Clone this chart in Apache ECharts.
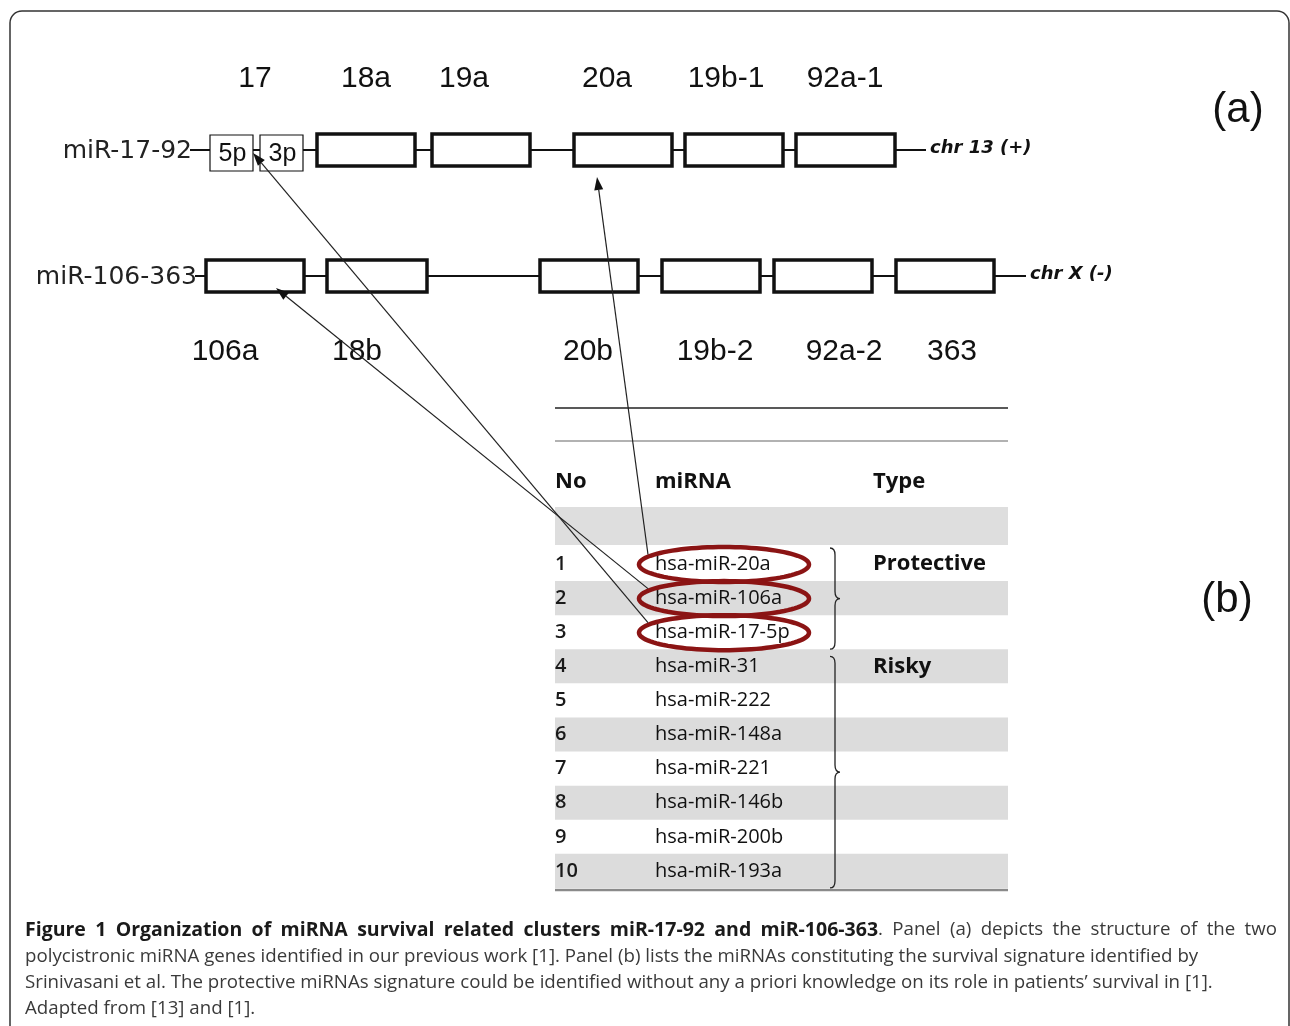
<!DOCTYPE html>
<html><head><meta charset="utf-8">
<script src="https://cdn.jsdelivr.net/npm/echarts@6/dist/echarts.min.js"></script>
<style>html,body{margin:0;padding:0;background:#fff}#c{width:1290px;height:1026px}</style>
</head><body><div id="c"></div>
<script>
// ---------- data ----------
const trackNames = ['miR-17-92', 'miR-106-363'];
const trackChrom = ['chr 13 (+)', 'chr X (-)'];
const trackStart = [190, 195];
const trackEnd = [926, 1026];

const cluster1Genes = ['17', '18a', '19a', '20a', '19b-1', '92a-1'];
const cluster1Start = [210, 317, 432, 574, 685, 796];
const cluster1End = [303, 415, 530, 672, 783, 895];
const cluster1LabelAt = [255, 366, 464, 607, 726, 845];

const arm17Names = ['5p', '3p'];
const arm17Start = [210, 260];
const arm17End = [253, 303];

const cluster2Genes = ['106a', '18b', '20b', '19b-2', '92a-2', '363'];
const cluster2Start = [206, 327, 540, 662, 774, 896];
const cluster2End = [304, 427, 638, 760, 872, 994];
const cluster2LabelAt = [225, 357, 588, 715, 844, 952];

const tableHeader = ['No', 'miRNA', 'Type'];
const tableNo = ['1', '2', '3', '4', '5', '6', '7', '8', '9', '10'];
const tableMiRNA = ['hsa-miR-20a', 'hsa-miR-106a', 'hsa-miR-17-5p', 'hsa-miR-31', 'hsa-miR-222',
  'hsa-miR-148a', 'hsa-miR-221', 'hsa-miR-146b', 'hsa-miR-200b', 'hsa-miR-193a'];
const tableType = ['Protective', '', '', 'Risky', '', '', '', '', '', ''];

const highlightRows = [0, 1, 2];
const arrowTargetGene = ['20a', '106a', '17'];
const arrowTipX = [597, 276, 253];
const arrowTipY = [177, 288, 153];

const panelLabels = ['(a)', '(b)'];
const captionBold = 'Figure 1 Organization of miRNA survival related clusters miR-17-92 and miR-106-363';
const captionLines = [
  '. Panel (a) depicts the structure of the two',
  'polycistronic miRNA genes identified in our previous work [1]. Panel (b) lists the miRNAs constituting the survival signature identified by',
  'Srinivasani et al. The protective miRNAs signature could be identified without any a priori knowledge on its role in patients\u2019 survival in [1].',
  'Adapted from [13] and [1].'
];

// ---------- layout (style) ----------
const TRACK_Y = [150, 276];
const BOX_HALF = 16;
const ARM_TOP = 135, ARM_BOT = 171;
const LABEL_Y = [78, 351];
const ROW0_Y = 564, ROW_H = 34.1;
const COL_X = [555, 655, 873];
const TABLE_L = 555, TABLE_R = 1008;
const rowY = i => ROW0_Y + i * ROW_H;
const GENE_FONT = '30px "Liberation Sans", Arial, sans-serif';
const TABLE_FONT_FAMILY = '"Open Sans", sans-serif';
const DARKRED = '#8b1414';

const chart = echarts.init(document.getElementById('c'));

function txt(x, y, text, font, align, fill) {
  return { type: 'text', x: x, y: y, style: { text: text, font: font, fill: fill || '#111', align: align || 'center', verticalAlign: 'middle' } };
}

// tracks
function renderTrack(params, api) {
  const i = params.dataIndex;
  const a = api.coord([trackStart[i], TRACK_Y[i]]);
  const b = api.coord([trackEnd[i], TRACK_Y[i]]);
  return {
    type: 'group', children: [
      { type: 'line', shape: { x1: a[0], y1: a[1], x2: b[0], y2: b[1] }, style: { stroke: '#111', lineWidth: 2 } },
      txt(a[0] + 2, a[1] + 1, trackNames[i], '25px "DejaVu Sans", sans-serif', 'right', '#222'),
      txt(b[0] + 4, b[1] - 2, trackChrom[i], 'italic bold 18px "DejaVu Sans", sans-serif', 'left', '#111')
    ]
  };
}

// genes
const geneRows = [];
cluster1Genes.forEach((g, i) => geneRows.push({ track: 0, name: g, s: cluster1Start[i], e: cluster1End[i], lab: cluster1LabelAt[i] }));
cluster2Genes.forEach((g, i) => geneRows.push({ track: 1, name: g, s: cluster2Start[i], e: cluster2End[i], lab: cluster2LabelAt[i] }));

function renderGene(params, api) {
  const d = geneRows[params.dataIndex];
  const ty = TRACK_Y[d.track];
  const children = [];
  if (d.name === '17') {
    arm17Names.forEach((n, k) => {
      const p0 = api.coord([arm17Start[k], ARM_TOP]);
      const p1 = api.coord([arm17End[k], ARM_BOT]);
      children.push({ type: 'rect', shape: { x: p0[0], y: p0[1], width: p1[0] - p0[0], height: p1[1] - p0[1] }, style: { fill: '#fff', stroke: '#111', lineWidth: 1.2 } });
      children.push(txt((p0[0] + p1[0]) / 2 + 1, (p0[1] + p1[1]) / 2 + 1, n, '25px "Liberation Sans", Arial, sans-serif', 'center', '#111'));
    });
  } else {
    const p0 = api.coord([d.s, ty - BOX_HALF]);
    const p1 = api.coord([d.e, ty + BOX_HALF]);
    children.push({ type: 'rect', shape: { x: p0[0], y: p0[1], width: p1[0] - p0[0], height: p1[1] - p0[1] }, style: { fill: '#fff', stroke: '#111', lineWidth: 3.5 } });
  }
  const lp = api.coord([d.lab, LABEL_Y[d.track]]);
  children.push(txt(lp[0], lp[1] + 1, d.name, GENE_FONT, 'center', '#111'));
  return { type: 'group', children: children };
}

// table rows
function renderTable(params, api) {
  const i = params.dataIndex;
  const children = [];
  const y = rowY(i);
  const L = api.coord([TABLE_L, y])[0], R = api.coord([TABLE_R, y])[0];
  const py = api.coord([0, y])[1];
  const h = api.size([0, ROW_H])[1];
  if (i === 0) {
    const r1 = api.coord([0, 408])[1], r2 = api.coord([0, 441])[1];
    children.push({ type: 'line', shape: { x1: L, y1: r1, x2: R, y2: r1 }, style: { stroke: '#222', lineWidth: 1.6 } });
    children.push({ type: 'line', shape: { x1: L, y1: r2, x2: R, y2: r2 }, style: { stroke: '#666', lineWidth: 1.2 } });
    const hb0 = api.coord([0, 507])[1], hb1 = api.coord([0, 545])[1];
    children.push({ type: 'rect', shape: { x: L, y: hb0, width: R - L, height: hb1 - hb0 }, style: { fill: '#dedede' } });
    const hy = api.coord([0, 482])[1];
    tableHeader.forEach((t, k) => children.push(txt(api.coord([COL_X[k], 0])[0], hy, t, 'bold 22px ' + TABLE_FONT_FAMILY, 'left', '#111')));
    const bl = api.coord([0, rowY(tableNo.length - 1) + ROW_H / 2 + 2])[1];
    children.push({ type: 'line', shape: { x1: L, y1: bl, x2: R, y2: bl }, style: { stroke: '#8a8a8a', lineWidth: 2.5 } });
  }
  if (i % 2 === 1) {
    children.push({ type: 'rect', shape: { x: L, y: py - h / 2, width: R - L, height: h }, style: { fill: '#dcdcdc' } });
  }
  children.push(txt(api.coord([COL_X[0], 0])[0], py, tableNo[i], '600 20px ' + TABLE_FONT_FAMILY, 'left', '#1a1a1a'));
  children.push(txt(api.coord([COL_X[1], 0])[0], py, tableMiRNA[i], '20px ' + TABLE_FONT_FAMILY, 'left', '#111'));
  if (tableType[i]) {
    children.push(txt(api.coord([COL_X[2], 0])[0], py, tableType[i], 'bold 22px ' + TABLE_FONT_FAMILY, 'left', '#111'));
  }
  return { type: 'group', children: children };
}

// braces for type groups
const typeGroups = [];
tableType.forEach((t, i) => { if (t) typeGroups.push(i); });
function renderBrace(params, api) {
  const i = typeGroups[params.dataIndex];
  let j = i + 1;
  while (j < tableType.length && !tableType[j]) j++;
  const top = api.coord([0, rowY(i) - (i === 0 ? 16 : 10)])[1];
  const bot = api.coord([0, rowY(j - 1) + 17])[1];
  const mid = (top + bot) / 2;
  const x0 = api.coord([830, 0])[0], xv = x0 + 5, tip = x0 + 10;
  const pd = `M ${x0} ${top} Q ${xv} ${top} ${xv} ${top + 7} L ${xv} ${mid - 7} Q ${xv} ${mid} ${tip} ${mid} Q ${xv} ${mid} ${xv} ${mid + 7} L ${xv} ${bot - 7} Q ${xv} ${bot} ${x0} ${bot}`;
  return { type: 'path', shape: { pathData: pd }, style: { fill: null, stroke: '#222', lineWidth: 1.3 } };
}

// highlight ellipses + arrows
function renderHighlight(params, api) {
  const k = params.dataIndex;
  const r = highlightRows[k];
  const c = api.coord([724, rowY(r) + 0.5]);
  const rx = 85, ry = 17.5;
  const pts = [];
  for (let t = 0; t < 96; t++) { const a = t / 96 * Math.PI * 2; pts.push([c[0] + rx * Math.cos(a), c[1] + ry * Math.sin(a)]); }
  const s = [c[0] - rx + 9, c[1] - 10];
  const e = api.coord([arrowTipX[k], arrowTipY[k]]);
  const ang = Math.atan2(e[1] - s[1], e[0] - s[0]);
  const len = 13, w = 4.5;
  const bx = e[0] - len * Math.cos(ang), by = e[1] - len * Math.sin(ang);
  const nx = -Math.sin(ang), ny = Math.cos(ang);
  return {
    type: 'group', children: [
      { type: 'polygon', shape: { points: pts }, style: { fill: null, stroke: DARKRED, lineWidth: 4.5 } },
      { type: 'line', shape: { x1: s[0], y1: s[1], x2: bx, y2: by }, style: { stroke: '#222', lineWidth: 1.2 } },
      { type: 'polygon', shape: { points: [[e[0], e[1]], [bx + w * nx, by + w * ny], [bx - w * nx, by - w * ny]] }, style: { fill: '#111' } }
    ]
  };
}

// ---------- caption (justified first line) ----------
const CAP_L = 25, CAP_R = 1277, CAP_Y0 = 930, CAP_DY = 26.3;
const FONT_B = 'bold 19.5px "Open Sans", sans-serif';
const FONT_R = '18.7px "Open Sans", sans-serif';
const COL_B = '#1a1a1a', COL_R = '#3a3a3a';
const mctx = document.createElement('canvas').getContext('2d');
function measure(font, t) { mctx.font = font; return mctx.measureText(t).width; }

const tokens = captionBold.split(' ').map(w => [[w, FONT_B, COL_B]]);
const regWords = captionLines[0].split(' ');
tokens[tokens.length - 1].push([regWords[0], FONT_R, COL_R]);
regWords.slice(1).forEach(w => tokens.push([[w, FONT_R, COL_R]]));
const tokW = tokens.map(tk => tk.reduce((s, seg) => s + measure(seg[1], seg[0]), 0));
const gap = (CAP_R - CAP_L - tokW.reduce((a, b) => a + b, 0)) / (tokens.length - 1);

const graphic = [
  { type: 'rect', shape: { x: 10, y: 11, width: 1279, height: 1040, r: 12 }, style: { fill: null, stroke: '#333', lineWidth: 1.5 }, z: 0 },
  { type: 'text', x: 1238, y: 110, style: { text: panelLabels[0], font: '42px "Liberation Sans", Arial, sans-serif', fill: '#111', align: 'center', verticalAlign: 'middle' } },
  { type: 'text', x: 1227, y: 600, style: { text: panelLabels[1], font: '42px "Liberation Sans", Arial, sans-serif', fill: '#111', align: 'center', verticalAlign: 'middle' } }
];
let cx = CAP_L;
tokens.forEach((tk, ti) => {
  let sx = cx;
  tk.forEach(seg => {
    graphic.push({ type: 'text', x: sx, y: CAP_Y0, style: { text: seg[0], font: seg[1], fill: seg[2], verticalAlign: 'middle' } });
    sx += measure(seg[1], seg[0]);
  });
  cx += tokW[ti] + gap;
});
for (let i = 1; i < captionLines.length; i++) {
  graphic.push({ type: 'text', x: CAP_L, y: CAP_Y0 + i * CAP_DY, style: { text: captionLines[i], font: FONT_R, fill: COL_R, verticalAlign: 'middle' } });
}

chart.setOption({
  animation: false,
  backgroundColor: '#fff',
  grid: { left: 0, right: 0, top: 0, bottom: 0 },
  xAxis: { type: 'value', min: 0, max: 1290, show: false },
  yAxis: { type: 'value', min: 0, max: 1026, inverse: true, show: false },
  graphic: graphic,
  series: [
    { type: 'custom', name: 'tracks', data: trackNames.map((n, i) => [trackStart[i], TRACK_Y[i]]), renderItem: renderTrack, z: 2 },
    { type: 'custom', name: 'genes', data: geneRows.map(g => [g.s, TRACK_Y[g.track]]), renderItem: renderGene, z: 3 },
    { type: 'custom', name: 'table', data: tableNo.map((n, i) => [TABLE_L, rowY(i)]), renderItem: renderTable, z: 1 },
    { type: 'custom', name: 'braces', data: typeGroups.map(i => [830, rowY(i)]), renderItem: renderBrace, z: 2 },
    { type: 'custom', name: 'highlight', data: highlightRows.map(r => [724, rowY(r)]), renderItem: renderHighlight, z: 4 }
  ]
});
</script></body></html>
